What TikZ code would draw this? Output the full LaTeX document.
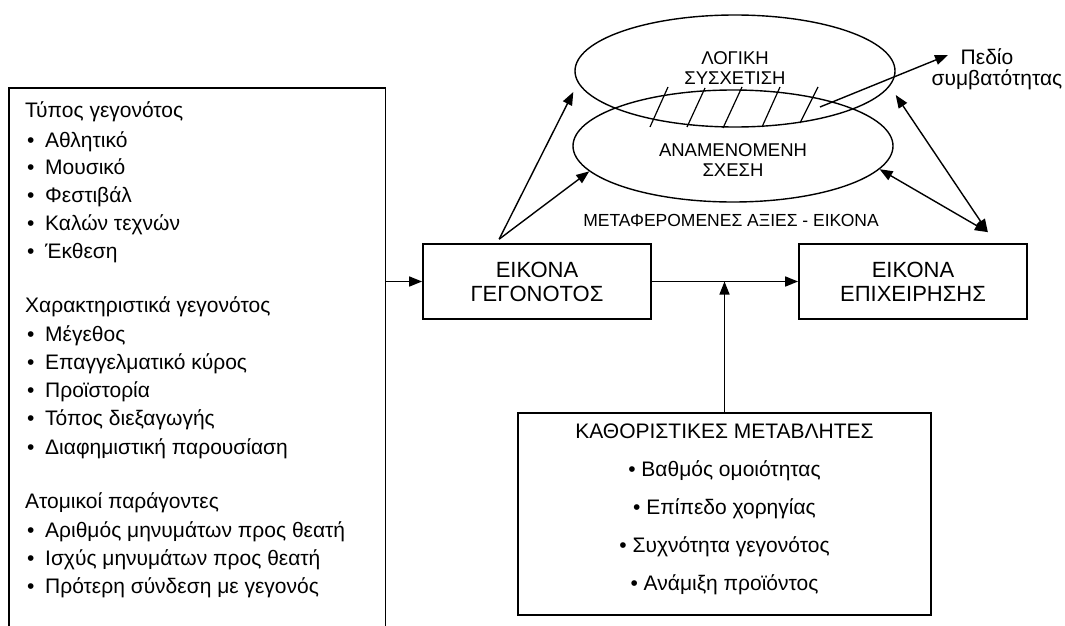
\documentclass[tikz,border=0pt]{standalone}
\usepackage{fontspec}
\setmainfont{Liberation Sans}
\usetikzlibrary{arrows.meta,shapes.geometric,calc}
\newcommand\bul{\makebox[20pt][l]{\hspace{2pt}•}}
\begin{document}
\begin{tikzpicture}[x=1pt,y=-1pt,
  every node/.style={font=\fontsize{21}{24}\selectfont, inner sep=0pt},
  boxtext/.style={font=\fontsize{22}{24}\selectfont},
  ovaltext/.style={font=\fontsize{18.5}{20}\selectfont},
  frame/.style={draw, line width=1.7pt, rectangle},
  arr/.style={line width=1.4pt, -{Triangle[length=13pt,width=10pt]}},
  darr/.style={line width=1.4pt, {Triangle[length=13pt,width=10pt]}-{Triangle[length=13pt,width=10pt]}},
  oval/.style={draw, ellipse, line width=1.4pt, minimum width=320pt, minimum height=112pt},
  txt/.style={anchor=base west},
]
\useasboundingbox (0,0) rectangle (1065,626);

% factor list on the left (open at the bottom)
\node[minimum width=376pt, minimum height=538pt, anchor=north west] (factors) at (9,88) {};
\draw[line width=1.7pt] (factors.south west) -- (factors.north west)
  -- (factors.north east) -- (factors.south east);
\foreach \y/\t [count=\i] in {
  117/Τύπος γεγονότος,
  147/\bul Αθλητικό,
  174/\bul Μουσικό,
  202/\bul Φεστιβάλ,
  230/\bul Καλών τεχνών,
  258/\bul Έκθεση,
  312/Χαρακτηριστικά γεγονότος,
  341/\bul Μέγεθος,
  369/\bul Επαγγελματικό κύρος,
  397/\bul Προϊστορία,
  425/\bul Τόπος διεξαγωγής,
  454/\bul Διαφημιστική παρουσίαση,
  508/Ατομικοί παράγοντες,
  537/\bul Αριθμός μηνυμάτων προς θεατή,
  565/\bul Ισχύς μηνυμάτων προς θεατή,
  593/\bul Πρότερη σύνδεση με γεγονός}
  \node[txt] (f\i) at (25,\y) {\t};

% central boxes
\node[frame, boxtext, minimum width=228pt, minimum height=75pt, align=center] (ev) at (537,281.5) {ΕΙΚΟΝΑ\\ΓΕΓΟΝΟΤΟΣ};
\node[frame, boxtext, minimum width=228pt, minimum height=75pt, align=center] (biz) at (913,281.5) {ΕΙΚΟΝΑ\\ΕΠΙΧΕΙΡΗΣΗΣ};
\node[frame, minimum width=413pt, minimum height=202pt] (vars) at (724.5,514) {};
\node[align=center, font=\fontsize{21}{38}\selectfont] (varstxt) at (724.5,509)
  {ΚΑΘΟΡΙΣΤΙΚΕΣ ΜΕΤΑΒΛΗΤΕΣ\\• Βαθμός ομοιότητας\\• Επίπεδο χορηγίας\\• Συχνότητα γεγονότος\\• Ανάμιξη προϊόντος};

% overlapping ellipses
\node[oval] (logic) at (735,71) {};
\node[oval] (expect) at (733,146) {};
\node[align=center, ovaltext] (logictxt) at (735,68) {ΛΟΓΙΚΗ\\ΣΥΣΧΕΤΙΣΗ};
\node[align=center, ovaltext] (expecttxt) at (733,160) {ΑΝΑΜΕΝΟΜΕΝΗ\\ΣΧΕΣΗ};
\node[font=\fontsize{17.5}{18}\selectfont] (transfer) at (731,220) {ΜΕΤΑΦΕΡΟΜΕΝΕΣ ΑΞΙΕΣ - ΕΙΚΟΝΑ};

% hatching of the common area
\foreach \a/\b/\c/\d in {650/127/668/87, 687/127/705/88, 723/128/742/87, 762/127/780/87, 800/123/818/87}
  \draw[line width=1.2pt] (\a,\b) -- (\c,\d);

\node[align=center, font=\fontsize{21}{21}\selectfont] (field) at (997,69) {Πεδίο\hspace*{20pt}\\συμβατότητας};
\coordinate (lens) at (820,107);
\coordinate (fieldtip) at (948,55);
\draw[arr] (lens) -- (fieldtip);

% connectors
\draw[arr] (factors.east |- ev.west) -- (ev.west);
\draw[arr] (ev.east) -- (biz.west);
\draw[arr] (vars.north) -- (vars.north |- ev.east);

\coordinate (evtop) at ($(ev.north west)+(77,-4)$);
\draw[arr] (evtop) -- ($(logic.west)+(-1,21)$);
\draw[arr] (evtop) -- (expect.190);

\coordinate (biztop) at ($(biz.north east)+(-40,-11)$);
\draw[darr] (biztop) -- ($(logic.east)+(0,24)$);
\draw[darr] (biztop) -- (expect.-9);
\end{tikzpicture}
\end{document}
